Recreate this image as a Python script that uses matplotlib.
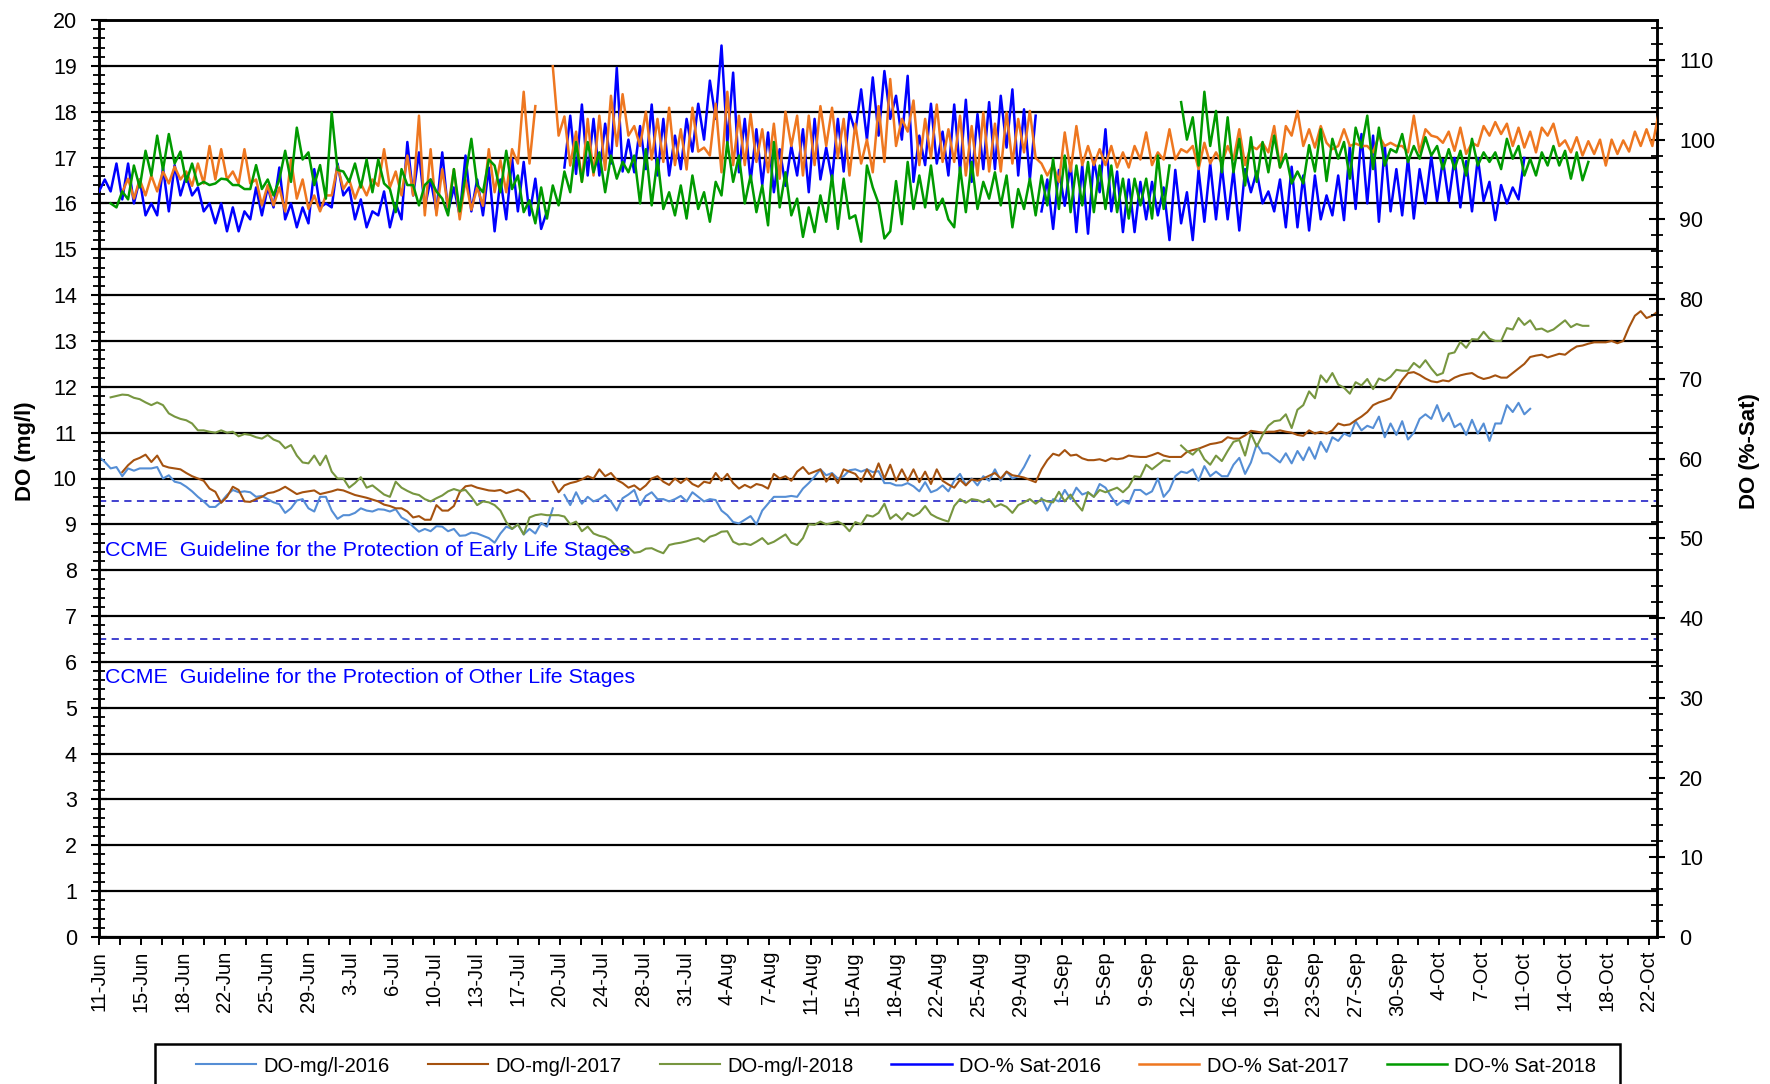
import numpy as np
import matplotlib
matplotlib.use("Agg")
import matplotlib.pyplot as plt
from matplotlib.ticker import MultipleLocator, FixedLocator, NullFormatter
from matplotlib.patches import Rectangle

plt.rcParams['font.family'] = ['Liberation Sans', 'DejaVu Sans']

# ---------------- DATA ----------------
# x axis: days since 11-Jun; every series sampled every half day (0.5 d)
tick_labels = ["11-Jun", "15-Jun", "18-Jun", "22-Jun", "25-Jun", "29-Jun", "3-Jul", "6-Jul",
               "10-Jul", "13-Jul", "17-Jul", "20-Jul", "24-Jul", "28-Jul", "31-Jul", "4-Aug",
               "7-Aug", "11-Aug", "15-Aug", "18-Aug", "22-Aug", "25-Aug", "29-Aug", "1-Sep",
               "5-Sep", "9-Sep", "12-Sep", "16-Sep", "19-Sep", "23-Sep", "27-Sep", "30-Sep",
               "4-Oct", "7-Oct", "11-Oct", "14-Oct", "18-Oct", "22-Oct"]
tick_step_days = 3.6
x_span_days = 133.9
sample_step = 0.5

series_names = ["DO-mg/l-2016", "DO-mg/l-2017", "DO-mg/l-2018",
                "DO-% Sat-2016", "DO-% Sat-2017", "DO-% Sat-2018"]

# DO mg/l 2016 (segments: start day, values)
mgl_2016_a_start = 0
mgl_2016_a = [10.47, 10.36, 10.22, 10.25, 10.05, 10.22, 10.17, 10.22, 10.22, 10.22,
              10.25, 10.0, 10.07, 9.93, 9.9, 9.82, 9.72, 9.6, 9.5, 9.38,
              9.38, 9.49, 9.64, 9.75, 9.7, 9.72, 9.7, 9.6, 9.62, 9.55,
              9.48, 9.44, 9.25, 9.35, 9.52, 9.55, 9.35, 9.28, 9.6, 9.6,
              9.3, 9.12, 9.2, 9.2, 9.25, 9.35, 9.3, 9.28, 9.33, 9.32,
              9.28, 9.33, 9.15, 9.08, 8.95, 8.84, 8.9, 8.85, 8.96, 8.95,
              8.85, 8.9, 8.75, 8.76, 8.82, 8.8, 8.75, 8.7,
              8.6, 8.8, 8.95, 8.9, 9.0, 8.78, 8.9, 8.8, 9.03, 8.95, 9.35]
mgl_2016_b_start = 40
mgl_2016_b = [9.64, 9.42, 9.7, 9.45, 9.6, 9.5, 9.55, 9.64, 9.5, 9.3,
              9.57, 9.65, 9.75, 9.42, 9.62, 9.7, 9.55, 9.55, 9.5, 9.55,
              9.62, 9.5, 9.7, 9.6, 9.5, 9.55, 9.53, 9.3, 9.2, 9.05,
              9.02, 9.1, 9.18, 9.0, 9.3, 9.45, 9.6, 9.6, 9.6, 9.62,
              9.6, 9.78, 9.9, 10.04, 10.2, 10.07, 10.12, 10.0, 10.05, 10.18,
              10.2, 10.15, 10.2, 10.14, 10.16, 9.9,
              9.9, 9.85, 9.85, 9.9, 9.83, 9.72, 9.92, 9.7, 9.75, 9.85,
              9.72, 9.95, 10.1, 9.86, 10.0, 9.85, 10.05, 9.95, 10.2, 9.95,
              10.15, 10.0, 10.05, 10.25, 10.5]
mgl_2016_c_start = 81
mgl_2016_c = [9.57, 9.3, 9.55, 9.5, 9.75, 9.55, 9.8, 9.65, 9.7, 9.6,
              9.88, 9.8, 9.6, 9.42, 9.52, 9.45, 9.75, 9.75, 9.65, 9.72,
              10.0, 9.6, 9.75, 10.05, 10.15, 10.12, 10.2, 9.95, 10.27, 10.05,
              10.15, 10.05, 10.05, 10.3, 10.45, 10.1, 10.35, 10.75, 10.55, 10.55,
              10.45, 10.35,
              10.55, 10.33, 10.6, 10.4, 10.68, 10.43, 10.8, 10.58, 10.9, 10.82,
              10.98, 10.92, 11.25, 11.05, 11.15, 11.1, 11.35, 10.9, 11.2, 10.95,
              11.25, 10.85, 11.0, 11.3, 11.4, 11.3, 11.6, 11.25, 11.43, 11.12,
              11.2, 10.95, 11.28, 10.98, 11.2, 10.82, 11.2, 11.2, 11.6, 11.45,
              11.65, 11.4, 11.52]

# DO mg/l 2017
mgl_2017_a_start = 2
mgl_2017_a = [10.14, 10.29, 10.4, 10.45, 10.52, 10.36, 10.5, 10.28, 10.24, 10.22,
              10.2, 10.12, 10.05, 10.0, 9.95, 9.78, 9.71, 9.47, 9.6, 9.82,
              9.75, 9.5, 9.49, 9.55, 9.6, 9.68, 9.7, 9.75, 9.82, 9.74,
              9.66, 9.7, 9.72, 9.74, 9.66, 9.69, 9.72, 9.76, 9.74, 9.69,
              9.64, 9.61, 9.58, 9.54, 9.5, 9.43, 9.4, 9.35, 9.35, 9.28,
              9.15, 9.18, 9.1, 9.1, 9.42, 9.3, 9.3, 9.4, 9.7, 9.83,
              9.85, 9.8, 9.77, 9.74,
              9.73, 9.75, 9.68, 9.72, 9.76, 9.7, 9.55]
mgl_2017_b_start = 39
mgl_2017_b = [9.93, 9.7, 9.85, 9.9, 9.93, 9.98, 10.05, 10.0, 10.2, 10.05,
              10.12, 9.97, 9.9, 9.8, 9.85, 9.75, 9.85, 10.0, 10.05, 9.93,
              9.86, 10.0, 9.9, 10.0, 9.88, 9.82, 9.93, 9.9, 10.12, 9.95,
              10.1, 9.9, 9.78, 9.86, 9.8, 9.88, 9.85, 9.78, 10.1, 10.0,
              10.05, 9.95, 10.15, 10.25, 10.1, 10.15, 10.2, 9.93, 10.1, 9.9,
              10.2, 10.15, 10.1, 9.93, 10.2, 10.0, 10.33, 10.0,
              10.3, 9.95, 10.2, 9.95, 10.2, 9.92, 10.15, 9.88, 10.2, 9.95,
              9.87, 9.8, 9.97, 9.85, 9.98, 9.95, 10.0, 10.06, 10.12, 10.0,
              10.15, 10.07, 10.05, 10.02, 9.97, 9.92, 10.2, 10.4, 10.54, 10.5,
              10.62, 10.5, 10.52, 10.44, 10.4, 10.4, 10.42, 10.38, 10.44, 10.42,
              10.44, 10.5, 10.48, 10.47, 10.47, 10.51, 10.56, 10.5, 10.47, 10.47,
              10.47, 10.58, 10.62, 10.65, 10.7, 10.75, 10.77, 10.8, 10.9, 10.87,
              10.87, 10.94, 11.04, 11.02, 11.0, 11.02, 11.02, 11.05,
              11.02, 11.0, 10.95, 10.93, 11.05, 10.98, 11.02, 10.98, 11.05, 11.2,
              11.16, 11.18, 11.27, 11.35, 11.45, 11.6, 11.66, 11.7, 11.75, 11.95,
              12.15, 12.3, 12.32, 12.26, 12.18, 12.12, 12.1, 12.14, 12.12, 12.2,
              12.25, 12.28, 12.3, 12.22, 12.17, 12.2, 12.25, 12.2, 12.2, 12.3,
              12.4, 12.5, 12.65, 12.68, 12.7, 12.64, 12.68, 12.72, 12.7, 12.8,
              12.88, 12.9, 12.94, 12.97, 12.97, 12.97, 13.0, 12.95, 13.0, 13.3,
              13.55, 13.65, 13.5, 13.55, 13.65]

# DO mg/l 2018
mgl_2018_a_start = 1
mgl_2018_a = [11.77, 11.8, 11.83, 11.82, 11.76, 11.73, 11.66, 11.6, 11.66, 11.6,
              11.42, 11.35, 11.3, 11.27, 11.2, 11.05, 11.05, 11.02, 11.0, 11.05,
              11.0, 11.02, 10.92, 10.97, 10.95, 10.9, 10.87, 10.95, 10.85, 10.8,
              10.66, 10.73, 10.5, 10.35, 10.33, 10.5, 10.29, 10.5, 10.15, 10.0,
              10.0, 9.8, 9.9, 10.03, 9.8, 9.85, 9.75, 9.65, 9.6, 9.93,
              9.8, 9.73, 9.67, 9.64, 9.55, 9.5, 9.57, 9.63, 9.72, 9.77,
              9.73, 9.75, 9.6, 9.42, 9.5, 9.48,
              9.42, 9.3, 9.05, 8.9, 9.0, 8.78, 9.15, 9.2, 9.22, 9.2,
              9.2, 9.2, 9.17, 9.0, 9.06, 8.85, 8.95, 8.8, 8.75, 8.72,
              8.65, 8.5, 8.38, 8.5, 8.38, 8.4, 8.47, 8.48, 8.42, 8.37,
              8.55, 8.58, 8.6, 8.63, 8.67, 8.7, 8.62, 8.73, 8.77, 8.84,
              8.85, 8.62, 8.56, 8.58, 8.55, 8.62, 8.7, 8.57, 8.62, 8.7,
              8.78, 8.6, 8.55, 8.7, 9.0, 8.99, 9.06, 9.0, 9.03, 9.06,
              8.99, 8.85, 9.05, 9.0, 9.2, 9.17, 9.25, 9.45,
              9.12, 9.22, 9.1, 9.25, 9.18, 9.25, 9.4, 9.22, 9.15, 9.1,
              9.06, 9.4, 9.55, 9.47, 9.55, 9.53, 9.48, 9.55, 9.38, 9.44,
              9.38, 9.25, 9.42, 9.48, 9.55, 9.45, 9.55, 9.5, 9.48, 9.71,
              9.5, 9.65, 9.45, 9.3, 9.7, 9.6, 9.75, 9.7, 9.75, 9.8,
              9.7, 9.82, 10.05, 10.03, 10.3, 10.2, 10.3, 10.4, 10.38]
mgl_2018_b_start = 93
mgl_2018_b = [10.72, 10.6, 10.52, 10.65, 10.42, 10.3, 10.5, 10.38, 10.6, 10.8,
              10.84, 10.5, 10.98, 10.7, 10.95, 11.15, 11.25, 11.27,
              11.4, 11.1, 11.5, 11.6, 11.9, 11.75, 12.25, 12.1, 12.3, 12.05,
              11.98, 11.85, 12.1, 12.03, 12.17, 11.95, 12.18, 12.13, 12.22, 12.37,
              12.35, 12.35, 12.52, 12.42, 12.58, 12.4, 12.25, 12.3, 12.72, 12.75,
              12.98, 12.85, 13.04, 13.03, 13.2, 13.05, 13.0, 13.0, 13.28, 13.25,
              13.5, 13.35, 13.45, 13.25, 13.27, 13.2, 13.25, 13.35, 13.45, 13.3,
              13.37, 13.33, 13.33]

# DO % saturation 2016
sat_2016_a_start = 0
sat_2016_a = [93.5, 95, 93.5, 97, 92.5, 97, 92, 95, 90.5, 92, 90.5, 96.5, 91, 96.8, 93, 95.5, 93, 94, 91, 92,
              89.5, 92, 88.5, 91.5, 88.5, 91, 90, 94, 90.5, 94, 91.5, 96.5, 90, 92, 89, 91.5, 89.5, 96.3, 91.5, 92,
              91.5, 97, 93, 94, 90, 92.5, 89, 91, 90.5, 93.5, 89, 92, 90, 99.7, 93, 98.4, 91.5, 95, 91, 98.4,
              91, 94, 90.5, 98, 91, 95, 90.5, 96.5, 88.5, 95, 90, 97.6, 91, 97.2, 90.5, 95.1, 88.8, 91]
sat_2016_b_start = 40
sat_2016_b = [96.5, 103, 95.7, 104.4, 95.5, 102.6, 95.5, 102, 97, 109, 96, 100, 95.9, 101.7, 96.3, 104.4, 95.5, 102.6, 95.5, 100.5,
              96.3, 102.6, 98.5, 104.5, 100, 107.4, 102.6, 111.8, 99.5, 108.4, 95.9, 102.6, 94.7, 101.3, 94.3, 100.9, 93.4, 98.8, 94.2, 99.2,
              95.5, 101.3, 93.4, 102.6, 95, 99, 95, 102.6, 96, 103.4, 101, 106.3, 100, 107.8, 100.5, 108.6, 102.6, 105.5, 100, 108,
              94.7, 100.5, 96.8, 104.5, 97, 101, 95.5, 104.4, 96, 105, 94.7, 103.2, 96.3, 104.7, 96.3, 105.5, 99, 106.3, 95.5, 103.8,
              95, 103]
sat_2016_c_start = 81
sat_2016_c = [91, 95, 88.8, 96.2, 91.7, 97, 88.4, 96.8, 88.2, 97.5, 93.4, 101.3, 91, 96, 88.4, 95, 88.4, 94.7,
              90, 94.7, 90.5, 94, 87.4, 96.2, 89.5, 93.4, 87.4, 96.2, 89.7, 97, 90, 96.7, 90, 96.2, 88.6, 96.3, 93.4, 96,
              92, 93.5, 91, 95, 89, 96.6, 89, 95.5, 88.6, 95.5, 90, 93, 90.5, 95.5, 89.9, 99.2, 91.3, 100.7, 92, 100.5,
              89.7, 99.2, 91, 96.3, 90.5, 97.7, 90.1, 96.3, 92, 97.9, 92.3, 97.5, 92.3, 97.7, 91.5, 97.3, 91, 97.7, 92.3, 94.7,
              89.9, 94.3, 92, 94, 92.5, 97.7]

# DO % saturation 2017
sat_2017_a_start = 2
sat_2017_a = [93.4, 95.1, 92.6, 95, 93, 95.5, 93.5, 96, 94.5, 96.6, 95, 96, 94.2, 97, 94.5, 99.2, 95, 98.8, 95, 96,
              94.5, 98.8, 94.5, 95, 91.75, 94.3, 91.75, 94, 91, 97.5, 92.6, 95, 91.3, 93, 91, 93, 93, 96.7, 93.8, 95,
              92.6, 94.5, 93, 95, 94.2, 98.8, 94, 96, 93, 98, 93, 103, 90.5, 98.8, 90.5, 96.3, 91.5, 96.3, 90, 95,
              91.2, 94, 91.7, 98.8, 93.4, 97.4, 93.4, 98.8, 97, 106, 97, 104.2]
sat_2017_b_start = 39
sat_2017_b = [109.2, 100.5, 102.9, 96.75, 101, 94.7, 102.6, 95.5, 103, 96.2, 105.5, 99.2, 105.7, 100.5, 101.7, 99.2, 103.5, 97.5, 102.6, 97.2,
              104, 96.8, 101.3, 96.25, 104, 98.5, 99, 98, 104.5, 95.9, 106, 96.8, 103, 96.8, 103.2, 97.2, 101.3, 95.9, 102, 95.1,
              103.5, 99.2, 103, 95.5, 103, 96.8, 104.2, 99.2, 104, 97.7, 102.6, 95.5, 102, 97, 100, 95.9, 104.2, 97.2, 107.6, 99.2,
              102.6, 101, 104.9, 96.8, 102.6, 97.7, 104.4, 97.2, 101.3, 97.2, 103, 95.5, 101.7, 95.5, 103.4, 96, 102, 96, 103.4, 97,
              102.6, 98.4, 103.6, 97.7, 97, 95.5, 96.8, 94.7, 100.9, 96, 101.7, 96.8, 99.2, 96.8, 98.8, 96.8, 99.2, 96.5, 98.4, 96.5,
              99.2, 97.5, 100.9, 96.8, 98.4, 97.5, 101.3, 97.5, 98.8, 98.4, 99.2, 96.3, 99.6, 97, 98.4, 97, 99.2, 97.5, 101.3, 96.8,
              99.2, 98.8, 99.6, 98.4, 101.7, 96.5, 101.7, 100.5, 103.6, 99.2, 101.3, 99, 101.7, 99.6, 98.8, 99.2, 101.3, 99.2, 99.5, 99.2,
              99.2, 98.4, 100.5, 99.2, 99.6, 99.2, 99.2, 98.4, 103, 98.4, 101.3, 100.5, 100.3, 99.6, 101, 98.6, 101.5, 98.2, 99.6, 99.2, 101.7, 100.5,
              102.2, 100.7, 102, 99.2, 101.5, 99, 101, 98.4, 101.5, 100.5, 102, 99.2, 99.9, 98.4, 100.3, 98, 99.8, 98.2, 100, 96.75,
              100, 98.2, 99.9, 98.5, 101, 99.2, 101.3, 99.2, 103]

# DO % saturation 2018
sat_2018_a_start = 1
sat_2018_a = [92, 91.5, 93.5, 92.5, 96.75, 94, 98.6, 95.5, 100.5, 96.2, 100.7, 97, 98.5, 94.7, 97, 94.3, 94.7, 94.3, 94.5, 95.1,
              95, 94.3, 94.3, 93.8, 93.8, 96.8, 93.8, 95, 93, 95, 98.6, 94.7, 101.5, 97.5, 98.4, 94.3, 96.8, 92.6, 103.4, 96.2,
              96, 94.7, 97, 94, 97.5, 93.4, 97.5, 94.5, 93.8, 90.9, 96.3, 94.3, 94.3, 91.75, 94.3, 95, 93.5, 92.6, 90.5, 96.3,
              91, 95.5, 100.1, 94.3, 93.4, 97.5,
              96.75, 93.4, 98.6, 93.8, 95.5, 90.9, 92.4, 89.5, 94, 90.1,
              94.25, 91.75, 96, 93.4, 99.7, 94.7, 99.7, 95.9, 98.4, 93.4,
              98, 95.1, 97.2, 95.9, 98, 92, 98.8, 91.75, 97.6, 91.3,
              93.4, 90.5, 94.25, 90.1, 95.5, 91.3, 93.4, 89.7, 94.7, 93,
              99.7, 94.7, 98, 92, 95.5, 90.9, 94.25, 89.25, 99.7, 91.5,
              95.9, 90.5, 92.6, 87.8, 91.5, 88.4, 93, 89.7, 95.5, 88.8,
              95.1, 90.1, 90.5, 87.2, 96.75, 94, 92, 87.6,
              88.5, 94.8, 89.4, 97.2, 91.3, 95.5, 91.5, 96.75, 91.2, 92.6,
              90.0, 89.0, 96.5, 90.9, 97.2, 91.3, 94.7, 92.6, 95.9, 91.75,
              95.5, 89.0, 93.8, 91.3, 95.1, 90.5, 95.5, 91.75, 97.6, 91.3,
              98, 90.9, 96.75, 91.75, 97.2, 90.9, 96.75, 91.3, 96.75, 90.9,
              95.1, 90.1, 95.1, 91.75, 95.1, 90.1, 98, 91.3, 96.75]
sat_2018_b_start = 93
sat_2018_b = [104.7, 100, 102.8, 96.75, 106, 99.2, 103.6, 95.9, 102.8, 95.9, 100.1, 94.25, 100.3, 94.7, 99.7, 95.9, 100.5, 96.5,
              98.2, 94.5, 96, 94.5, 99.3, 96, 101.3, 94.8, 100.1, 97.6,
              99.7, 95.1, 101.5, 99, 103, 96.3, 101.5, 96.75, 98.8, 98.4,
              100.7, 97.2, 99.2, 97.6, 100.3, 98, 99.2, 96.3, 98.8, 96.3,
              98.6, 95.5, 100.1, 96.75, 98.4, 97.2, 98.4, 96.3, 100.1, 97.6,
              99.2, 95.5, 97.6, 95.5, 98.4, 96.75, 99.2, 96.75, 98.6, 95.1,
              98.4, 94.9, 97.2]

guideline_early = 9.5
guideline_other = 6.5
guideline_early_text = "CCME  Guideline for the Protection of Early Life Stages"
guideline_other_text = "CCME  Guideline for the Protection of Other Life Stages"
guideline_early_text_y = 8.43
guideline_other_text_y = 5.67

colors = ['#558ED5', '#A5520F', '#779640', '#0000FF', '#EE7720', '#009A00']


def build(segments):
    xs, ys = [], []
    for start, vals in segments:
        xs.extend(start + sample_step * np.arange(len(vals)))
        ys.extend(vals)
        xs.append(np.nan)
        ys.append(np.nan)
    return np.array(xs), np.array(ys)


mgl_series = [
    [(mgl_2016_a_start, mgl_2016_a), (mgl_2016_b_start, mgl_2016_b), (mgl_2016_c_start, mgl_2016_c)],
    [(mgl_2017_a_start, mgl_2017_a), (mgl_2017_b_start, mgl_2017_b)],
    [(mgl_2018_a_start, mgl_2018_a), (mgl_2018_b_start, mgl_2018_b)],
]
sat_series = [
    [(sat_2016_a_start, sat_2016_a), (sat_2016_b_start, sat_2016_b), (sat_2016_c_start, sat_2016_c)],
    [(sat_2017_a_start, sat_2017_a), (sat_2017_b_start, sat_2017_b)],
    [(sat_2018_a_start, sat_2018_a), (sat_2018_b_start, sat_2018_b)],
]

# ---------------- FIGURE ----------------
W, H = 1770, 1084
fig = plt.figure(figsize=(W / 100, H / 100), dpi=100)
L, R, T, B = 99, 1657, 20, 937
ax = fig.add_axes([L / W, 1 - B / H, (R - L) / W, (B - T) / H])
ax2 = ax.twinx()

ax.set_xlim(0, x_span_days)
ax.set_ylim(0, 20)
ax2.set_ylim(0, 115)

ax.yaxis.grid(True, which='major', color='black', lw=1.6)
ax.set_axisbelow(True)

handles = []
for i, segs in enumerate(mgl_series):
    x, y = build(segs)
    h, = ax.plot(x, y, color=colors[i], lw=1.5, label=series_names[i], zorder=3,
                 solid_joinstyle='round')
    handles.append(h)
for i, segs in enumerate(sat_series):
    x, y = build(segs)
    h, = ax2.plot(x, y, color=colors[3 + i], lw=1.8, label=series_names[3 + i], zorder=3,
                  solid_joinstyle='round')
    handles.append(h)

for yv in (guideline_early, guideline_other):
    ax.axhline(yv, color='#3333CC', lw=1.3, ls=(0, (4, 3)), zorder=2.5)

ax.text(0.5, guideline_early_text_y, guideline_early_text, color='#0000FF', fontsize=15.4,
        va='center', ha='left', zorder=4)
ax.text(0.5, guideline_other_text_y, guideline_other_text, color='#0000FF', fontsize=15.4,
        va='center', ha='left', zorder=4)

# x ticks
major_pos = [i * tick_step_days for i in range(len(tick_labels))]
minor_pos = [(i + 0.5) * tick_step_days for i in range(len(tick_labels))]
ax.xaxis.set_major_locator(FixedLocator(major_pos))
ax.xaxis.set_minor_locator(FixedLocator(minor_pos))
ax.set_xticklabels(tick_labels, rotation=90, fontsize=14.5)
ax.xaxis.set_minor_formatter(NullFormatter())
ax.tick_params(axis='x', which='both', direction='out', length=6, width=1.4, pad=4)

# left y ticks
ax.yaxis.set_major_locator(MultipleLocator(1))
ax.yaxis.set_minor_locator(MultipleLocator(0.2))
ax.tick_params(axis='y', which='major', direction='inout', length=12, width=1.5, labelsize=15.5, pad=10)
ax.tick_params(axis='y', which='minor', direction='inout', length=8, width=1.3)

# right y ticks
ax2.yaxis.set_major_locator(MultipleLocator(10))
ax2.yaxis.set_minor_locator(MultipleLocator(2))
ax2.tick_params(axis='y', which='major', direction='inout', length=12, width=1.5, labelsize=15.5, pad=10)
ax2.tick_params(axis='y', which='minor', direction='inout', length=8, width=1.3)

for a in (ax, ax2):
    for s in a.spines.values():
        s.set_linewidth(1.8)
        s.set_color('black')

fig.text(25 / W, 1 - 451 / H, "DO (mg/l)", rotation=90, fontsize=16, fontweight='bold',
         ha='center', va='center')
fig.text(1750 / W, 1 - 451 / H, "DO (%-Sat)", rotation=90, fontsize=16, fontweight='bold',
         ha='center', va='center')

# legend box (extends below the figure edge like the reference)
fig.patches.append(Rectangle((155 / W, -0.02), 1465 / W, (1 - 1044 / H) + 0.02,
                             transform=fig.transFigure, fill=False, edgecolor='black',
                             linewidth=1.8, zorder=5))
leg = fig.legend(handles=handles, loc='center left', ncol=6, mode='expand',
                 bbox_to_anchor=(196 / W, 1 - 1088 / H, 1400 / W, 44 / H),
                 fontsize=14.5, handlelength=3.0, handletextpad=0.35, frameon=False,
                 borderpad=0.0, borderaxespad=0.0)

fig.savefig("out.png", dpi=100)
